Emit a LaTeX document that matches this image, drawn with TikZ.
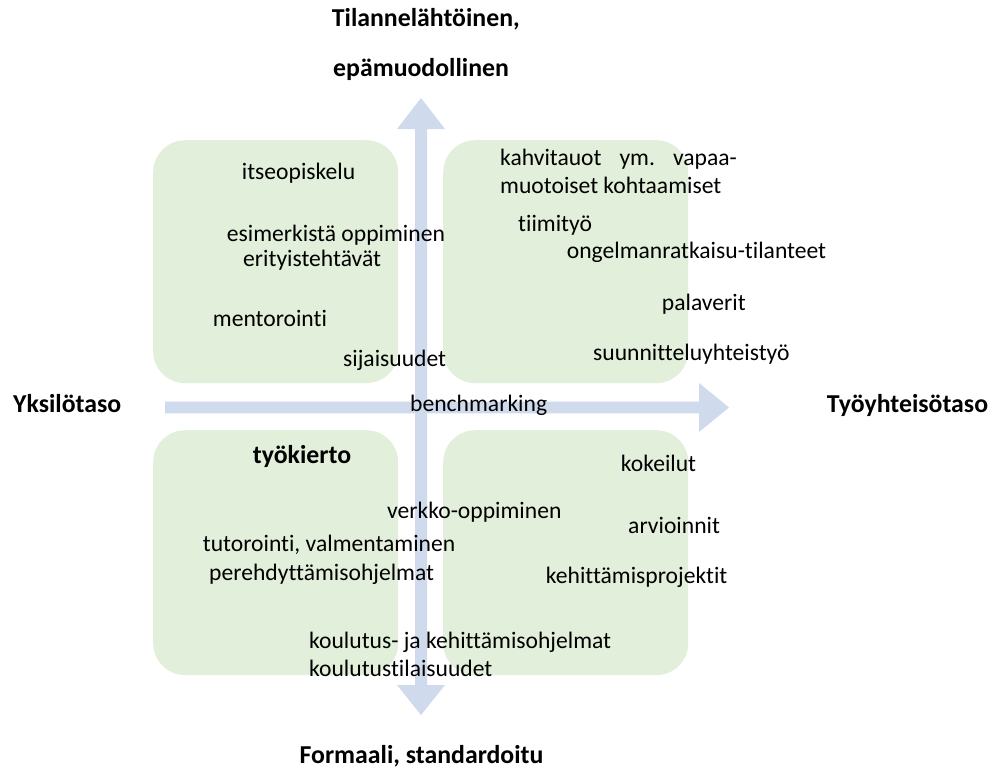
\documentclass[tikz,border=0pt]{standalone}
\usepackage{fontspec}
\setmainfont{Carlito}[Ligatures={NoCommon}, RawFeature={-liga;-clig;-dlig}]
\definecolor{boxgreen}{HTML}{E2EFDA}
\definecolor{arrowblue}{HTML}{CFDAEC}
\begin{document}
\begin{tikzpicture}[x=1pt,y=-1pt,
  quad/.style={fill=boxgreen, draw=none, rounded corners=32pt, minimum width=245pt, minimum height=243pt, anchor=north west, inner sep=0pt},
  lbl/.style={anchor=base west, inner sep=0pt, font=\fontsize{23.6}{28}\selectfont},
  blbl/.style={anchor=base west, inner sep=0pt, font=\fontsize{25.8}{30}\selectfont\bfseries},
  axis/.style={fill=arrowblue, draw=none}]
\useasboundingbox (0,0) rectangle (996,771);
% quadrants
\node[quad] (q1) at (153,140) {};
\node[quad] (q2) at (443,140) {};
\node[quad, minimum height=245pt] (q3) at (153,430) {};
\node[quad, minimum height=245pt] (q4) at (443,430) {};
% axes
\fill[axis] (415,129) -- (397,129) -- (421,98) -- (445,129) -- (427,129) -- (427,685) -- (445,685) -- (421,715) -- (397,685) -- (415,685) -- cycle;
\fill[axis] (165,401.7) -- (699,401.7) -- (699,383) -- (729,407.5) -- (699,432) -- (699,413.3) -- (165,413.3) -- cycle;
% axis labels
\node[blbl] (top1) at (331.7,27) {Tilannelähtöinen,};
\node[blbl] (top2) at (333,76) {epämuodollinen};
\node[blbl, anchor=base] (bot) at (421.5,763) {Formaali, standardoitu};
\node[blbl] (left) at (13,412) {Yksilötaso};
\node[blbl] (right) at (826.7,412) {Työyhteisötaso};
% top-left
\node[lbl] (a1) at (241.7,179) {itseopiskelu};
\node[lbl] (a2) at (226.7,241.7) {esimerkistä oppiminen};
\node[lbl] (a3) at (243,266.5) {erityistehtävät};
\node[lbl] (a4) at (212.7,326.7) {mentorointi};
\node[lbl] (a5) at (343,366.7) {sijaisuudet};
% top-right
\node[lbl] (b1) at (500,165) {\hbox to 236.7pt{kahvitauot\hfill ym.\hfill vapaa-}};
\node[lbl] (b2) at (500,193) {muotoiset kohtaamiset};
\node[lbl] (b3) at (518,231.7) {tiimityö};
\node[lbl] (b4) at (566.7,258) {ongelmanratkaisu-tilanteet};
\node[lbl] (b5) at (661.7,310) {palaverit};
\node[lbl] (b6) at (593,360) {suunnitteluyhteistyö};
% center
\node[lbl] (c1) at (410,411) {benchmarking};
% bottom-left
\node[blbl] (d1) at (252.7,463) {työkierto};
\node[lbl] (d2) at (387,518) {verkko-oppiminen};
\node[lbl] (d3) at (202.7,551.7) {tutorointi, valmentaminen};
\node[lbl] (d4) at (209,580) {perehdyttämisohjelmat};
\node[lbl] (d5) at (309,648) {koulutus- ja kehittämisohjelmat};
\node[lbl] (d6) at (309,676) {koulutustilaisuudet};
% bottom-right
\node[lbl] (e1) at (620.7,471.7) {kokeilut};
\node[lbl] (e2) at (628,533) {arvioinnit};
\node[lbl] (e3) at (545.7,583) {kehittämisprojektit};
\end{tikzpicture}
\end{document}
